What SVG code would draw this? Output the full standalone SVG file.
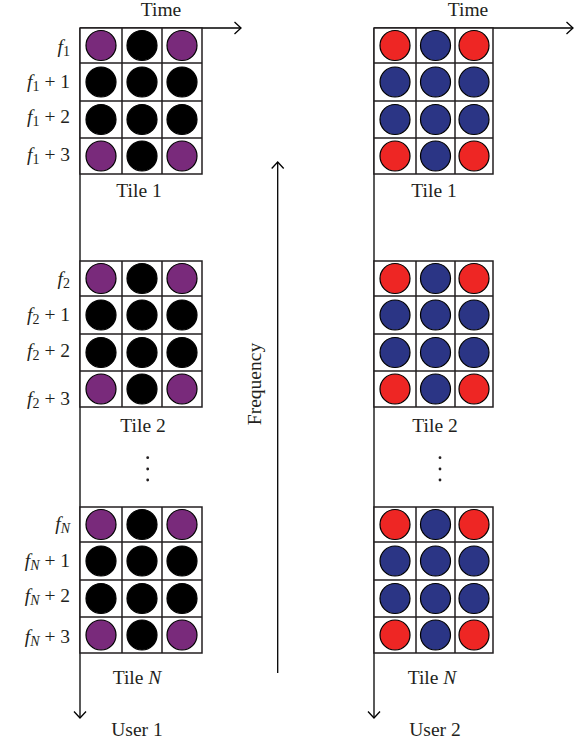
<svg xmlns="http://www.w3.org/2000/svg" width="582" height="742" viewBox="0 0 582 742">
<style>
text { font-family: "Liberation Serif", "Times New Roman", serif; font-size: 19.5px; fill: #231f20; }
.c { text-anchor: middle; }
.r { text-anchor: end; }
.it { font-style: italic; }
.sb { font-size: 14px; }
.grid { fill: #fff; stroke: #231f20; stroke-width: 1.5; }
.dot { stroke: #000; stroke-width: 1.2; }
.pu { fill: #792a7b; }
.bk { fill: #000; }
.rd { fill: #ee2624; }
.bl { fill: #2b3585; }
.ax { stroke: #000; stroke-width: 1.3; fill: none; }
.el { fill: #231f20; }
</style>
<defs>
<marker id="arr" viewBox="-8 -7 10 14" markerWidth="10" markerHeight="14" refX="0" refY="0" orient="auto" markerUnits="userSpaceOnUse">
<path d="M-6.5,-6 L0,0 L-6.5,6" fill="none" stroke="#000" stroke-width="1.3"/>
</marker>
<path id="gL" d="M0,0 H122 V146 H0 Z M42,0 V146 M82,0 V146 M0,35 H122 M0,73 H122 M0,110 H122"/>
<path id="gR" d="M0,0 H119 V146 H0 Z M42,0 V146 M81,0 V146 M0,35 H119 M0,73 H119 M0,110 H119"/>
</defs>

<g id="connectors">
<line class="ax" x1="80" y1="28" x2="241" y2="28" marker-end="url(#arr)"/>
<line class="ax" x1="80" y1="28" x2="80" y2="718" marker-end="url(#arr)"/>
<line class="ax" x1="374" y1="28" x2="573" y2="28" marker-end="url(#arr)"/>
<line class="ax" x1="374" y1="28" x2="374" y2="718" marker-end="url(#arr)"/>
<line class="ax" x1="277.7" y1="673" x2="277.7" y2="162" marker-end="url(#arr)"/>
</g>

<g id="labels">
<text class="c" x="161" y="16">Time</text>
<text class="c" x="468" y="16">Time</text>
<text class="c" transform="translate(261,384) rotate(-90)">Frequency</text>
<text class="c" x="137" y="736">User 1</text>
<text class="c" x="435" y="736">User 2</text>
</g>

<g id="user1-tile1">
<use href="#gL" class="grid" x="80" y="28"/>
<g transform="translate(80,28)">
<circle class="dot pu" cx="21" cy="17.5" r="15"/><circle class="dot bk" cx="62" cy="17.5" r="15"/><circle class="dot pu" cx="102" cy="17.5" r="15"/>
<circle class="dot bk" cx="21" cy="54" r="15"/><circle class="dot bk" cx="62" cy="54" r="15"/><circle class="dot bk" cx="102" cy="54" r="15"/>
<circle class="dot bk" cx="21" cy="91.5" r="15"/><circle class="dot bk" cx="62" cy="91.5" r="15"/><circle class="dot bk" cx="102" cy="91.5" r="15"/>
<circle class="dot pu" cx="21" cy="128" r="15"/><circle class="dot bk" cx="62" cy="128" r="15"/><circle class="dot pu" cx="102" cy="128" r="15"/>
</g>
<text class="r" x="70" y="53"><tspan class="it">f</tspan><tspan class="sb" dy="3">1</tspan></text>
<text class="r" x="70" y="88"><tspan class="it">f</tspan><tspan class="sb" dy="3">1</tspan><tspan dy="-3"> + 1</tspan></text>
<text class="r" x="70" y="123"><tspan class="it">f</tspan><tspan class="sb" dy="3">1</tspan><tspan dy="-3"> + 2</tspan></text>
<text class="r" x="70" y="161"><tspan class="it">f</tspan><tspan class="sb" dy="3">1</tspan><tspan dy="-3"> + 3</tspan></text>
<text class="c" x="139" y="197">Tile 1</text>
</g>

<g id="user1-tile2">
<use href="#gL" class="grid" x="80" y="261"/>
<g transform="translate(80,261)">
<circle class="dot pu" cx="21" cy="17.5" r="15"/><circle class="dot bk" cx="62" cy="17.5" r="15"/><circle class="dot pu" cx="102" cy="17.5" r="15"/>
<circle class="dot bk" cx="21" cy="54" r="15"/><circle class="dot bk" cx="62" cy="54" r="15"/><circle class="dot bk" cx="102" cy="54" r="15"/>
<circle class="dot bk" cx="21" cy="91.5" r="15"/><circle class="dot bk" cx="62" cy="91.5" r="15"/><circle class="dot bk" cx="102" cy="91.5" r="15"/>
<circle class="dot pu" cx="21" cy="128" r="15"/><circle class="dot bk" cx="62" cy="128" r="15"/><circle class="dot pu" cx="102" cy="128" r="15"/>
</g>
<text class="r" x="70" y="285"><tspan class="it">f</tspan><tspan class="sb" dy="3">2</tspan></text>
<text class="r" x="70" y="321"><tspan class="it">f</tspan><tspan class="sb" dy="3">2</tspan><tspan dy="-3"> + 1</tspan></text>
<text class="r" x="70" y="357"><tspan class="it">f</tspan><tspan class="sb" dy="3">2</tspan><tspan dy="-3"> + 2</tspan></text>
<text class="r" x="70" y="405"><tspan class="it">f</tspan><tspan class="sb" dy="3">2</tspan><tspan dy="-3"> + 3</tspan></text>
<text class="c" x="143" y="432">Tile 2</text>
</g>

<g id="user1-ellipsis">
<circle class="el" cx="147.7" cy="457.7" r="1.4"/><circle class="el" cx="147.7" cy="469" r="1.4"/><circle class="el" cx="147.7" cy="480" r="1.4"/>
</g>

<g id="user1-tileN">
<use href="#gL" class="grid" x="80" y="507"/>
<g transform="translate(80,507)">
<circle class="dot pu" cx="21" cy="17.5" r="15"/><circle class="dot bk" cx="62" cy="17.5" r="15"/><circle class="dot pu" cx="102" cy="17.5" r="15"/>
<circle class="dot bk" cx="21" cy="54" r="15"/><circle class="dot bk" cx="62" cy="54" r="15"/><circle class="dot bk" cx="102" cy="54" r="15"/>
<circle class="dot bk" cx="21" cy="91.5" r="15"/><circle class="dot bk" cx="62" cy="91.5" r="15"/><circle class="dot bk" cx="102" cy="91.5" r="15"/>
<circle class="dot pu" cx="21" cy="128" r="15"/><circle class="dot bk" cx="62" cy="128" r="15"/><circle class="dot pu" cx="102" cy="128" r="15"/>
</g>
<text class="r" x="70" y="530"><tspan class="it">f</tspan><tspan class="it sb" dy="3">N</tspan></text>
<text class="r" x="70" y="567"><tspan class="it">f</tspan><tspan class="it sb" dy="3">N</tspan><tspan dy="-3"> + 1</tspan></text>
<text class="r" x="70" y="602"><tspan class="it">f</tspan><tspan class="it sb" dy="3">N</tspan><tspan dy="-3"> + 2</tspan></text>
<text class="r" x="70" y="643"><tspan class="it">f</tspan><tspan class="it sb" dy="3">N</tspan><tspan dy="-3"> + 3</tspan></text>
<text class="c" x="137" y="684">Tile <tspan class="it">N</tspan></text>
</g>

<g id="user2-tile1">
<use href="#gR" class="grid" x="374" y="28"/>
<g transform="translate(374,28)">
<circle class="dot rd" cx="21" cy="17.5" r="15"/><circle class="dot bl" cx="61.5" cy="17.5" r="15"/><circle class="dot rd" cx="100" cy="17.5" r="15"/>
<circle class="dot bl" cx="21" cy="54" r="15"/><circle class="dot bl" cx="61.5" cy="54" r="15"/><circle class="dot bl" cx="100" cy="54" r="15"/>
<circle class="dot bl" cx="21" cy="91.5" r="15"/><circle class="dot bl" cx="61.5" cy="91.5" r="15"/><circle class="dot bl" cx="100" cy="91.5" r="15"/>
<circle class="dot rd" cx="21" cy="128" r="15"/><circle class="dot bl" cx="61.5" cy="128" r="15"/><circle class="dot rd" cx="100" cy="128" r="15"/>
</g>
<text class="c" x="434" y="197">Tile 1</text>
</g>

<g id="user2-tile2">
<use href="#gR" class="grid" x="374" y="261"/>
<g transform="translate(374,261)">
<circle class="dot rd" cx="21" cy="17.5" r="15"/><circle class="dot bl" cx="61.5" cy="17.5" r="15"/><circle class="dot rd" cx="100" cy="17.5" r="15"/>
<circle class="dot bl" cx="21" cy="54" r="15"/><circle class="dot bl" cx="61.5" cy="54" r="15"/><circle class="dot bl" cx="100" cy="54" r="15"/>
<circle class="dot bl" cx="21" cy="91.5" r="15"/><circle class="dot bl" cx="61.5" cy="91.5" r="15"/><circle class="dot bl" cx="100" cy="91.5" r="15"/>
<circle class="dot rd" cx="21" cy="128" r="15"/><circle class="dot bl" cx="61.5" cy="128" r="15"/><circle class="dot rd" cx="100" cy="128" r="15"/>
</g>
<text class="c" x="435" y="432">Tile 2</text>
</g>

<g id="user2-ellipsis">
<circle class="el" cx="440" cy="457.7" r="1.4"/><circle class="el" cx="440" cy="469" r="1.4"/><circle class="el" cx="440" cy="480" r="1.4"/>
</g>

<g id="user2-tileN">
<use href="#gR" class="grid" x="374" y="507"/>
<g transform="translate(374,507)">
<circle class="dot rd" cx="21" cy="17.5" r="15"/><circle class="dot bl" cx="61.5" cy="17.5" r="15"/><circle class="dot rd" cx="100" cy="17.5" r="15"/>
<circle class="dot bl" cx="21" cy="54" r="15"/><circle class="dot bl" cx="61.5" cy="54" r="15"/><circle class="dot bl" cx="100" cy="54" r="15"/>
<circle class="dot bl" cx="21" cy="91.5" r="15"/><circle class="dot bl" cx="61.5" cy="91.5" r="15"/><circle class="dot bl" cx="100" cy="91.5" r="15"/>
<circle class="dot rd" cx="21" cy="128" r="15"/><circle class="dot bl" cx="61.5" cy="128" r="15"/><circle class="dot rd" cx="100" cy="128" r="15"/>
</g>
<text class="c" x="432" y="684">Tile <tspan class="it">N</tspan></text>
</g>
</svg>
